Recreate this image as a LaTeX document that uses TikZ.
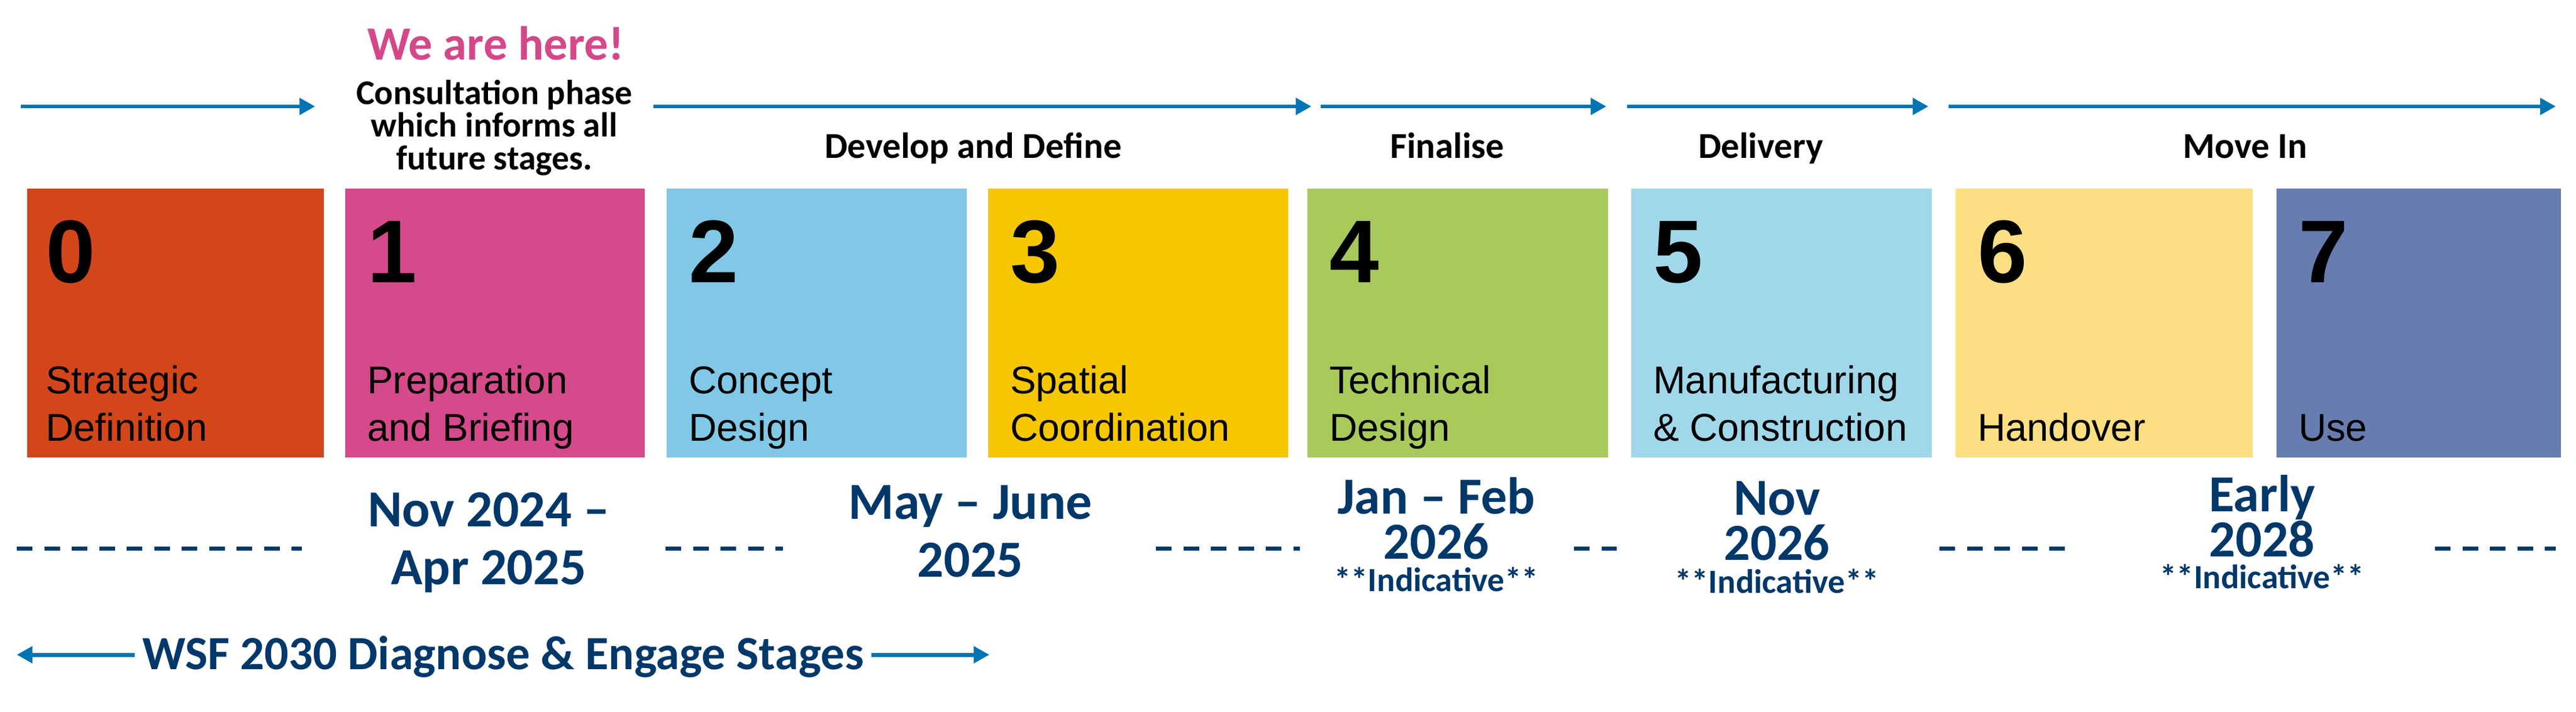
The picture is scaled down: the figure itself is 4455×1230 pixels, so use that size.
\documentclass[tikz,border=0pt]{standalone}
\usepackage{fontspec}
\setmainfont{Carlito}
\newfontfamily\arialf{Liberation Sans}
\usetikzlibrary{arrows.meta}
\definecolor{c0}{HTML}{D2461A}
\definecolor{c1}{HTML}{D44A8B}
\definecolor{c2}{HTML}{80C8E6}
\definecolor{c3}{HTML}{F6C700}
\definecolor{c4}{HTML}{A8CA5C}
\definecolor{c5}{HTML}{A0D8EA}
\definecolor{c6}{HTML}{FCDF82}
\definecolor{c7}{HTML}{687DAF}
\definecolor{arrowblue}{HTML}{0074B4}
\definecolor{navy}{HTML}{00386A}
\definecolor{herepink}{HTML}{D4488A}
\begin{document}
\begin{tikzpicture}[x=0.2pt,y=-0.2pt,
  stagebox/.style={draw=none,anchor=north west,inner sep=0pt,minimum height=93pt},
  num/.style={anchor=base west,inner sep=0pt,font=\arialf\bfseries\fontsize{30.8}{36}\selectfont},
  lbl/.style={anchor=base west,inner sep=0pt,align=left,font=\arialf\fontsize{13.4}{16.4}\selectfont},
  hdr/.style={anchor=base,inner sep=0pt,align=center,font=\bfseries\fontsize{12}{11.3}\selectfont},
  stagehdr/.style={anchor=base,inner sep=0pt,font=\bfseries\fontsize{12.6}{14}\selectfont},
  here/.style={anchor=base,inner sep=0pt,text=herepink,font=\bfseries\fontsize{16.5}{19}\selectfont},
  datea/.style={anchor=base,inner sep=0pt,align=center,text=navy,font=\bfseries\fontsize{18}{20}\selectfont},
  dateb/.style={anchor=base,inner sep=0pt,align=center,text=navy,font=\bfseries\fontsize{18}{15.5}\selectfont},
  ind/.style={anchor=base,inner sep=0pt,text=navy,font=\bfseries\fontsize{11.7}{14}\selectfont},
  wsf/.style={anchor=base,inner sep=0pt,text=navy,font=\bfseries\fontsize{16.5}{19}\selectfont},
  phase/.style={draw=arrowblue,line width=1.34pt,-{Triangle[length=5.4pt,width=5.6pt]}},
  gap/.style={draw=navy,line width=1.4pt,dash pattern=on 5.4pt off 4.1pt}
]
\useasboundingbox[fill=white] (0,0) rectangle (4455,1230);

% stage boxes
\node[stagebox,fill=c0,minimum width=102.6pt] (b0) at (46,325) {};
\node[stagebox,fill=c1,minimum width=103.6pt] (b1) at (596,325) {};
\node[stagebox,fill=c2,minimum width=103.8pt] (b2) at (1152,325) {};
\node[stagebox,fill=c3,minimum width=103.8pt] (b3) at (1708,325) {};
\node[stagebox,fill=c4,minimum width=104pt] (b4) at (2260,325) {};
\node[stagebox,fill=c5,minimum width=104pt] (b5) at (2820,325) {};
\node[stagebox,fill=c6,minimum width=102.8pt] (b6) at (3381,325) {};
\node[stagebox,fill=c7,minimum width=98.4pt] (b7) at (3936,325) {};

% numbers
\node[num] (n0) at (78,488) {0};
\node[num] (n1) at (634,488) {1};
\node[num] (n2) at (1190,488) {2};
\node[num] (n3) at (1746,488) {3};
\node[num] (n4) at (2298,488) {4};
\node[num] (n5) at (2858,488) {5};
\node[num] (n6) at (3419,488) {6};
\node[num] (n7) at (3974,488) {7};

% labels (anchor = baseline of last line)
\node[lbl] (l0) at (78,762) {Strategic\\Definition};
\node[lbl] (l1) at (634,762) {Preparation\\and Briefing};
\node[lbl] (l2) at (1190,762) {Concept\\Design};
\node[lbl] (l3) at (1746,762) {Spatial\\Coordination};
\node[lbl] (l4) at (2298,762) {Technical\\Design};
\node[lbl] (l5) at (2858,762) {Manufacturing\\\& Construction};
\node[lbl] (l6) at (3419,762) {Handover};
\node[lbl] (l7) at (3974,762) {Use};

% top phase arrows
\coordinate (a1s) at (36,184);   \coordinate (a1e) at (545,184);
\coordinate (a2s) at (1130,184); \coordinate (a2e) at (2268,184);
\coordinate (a3s) at (2284,184); \coordinate (a3e) at (2778,184);
\coordinate (a4s) at (2814,184); \coordinate (a4e) at (3335,184);
\coordinate (a5s) at (3370,184); \coordinate (a5e) at (4420,184);
\draw[phase] (a1s) -- (a1e);
\draw[phase] (a2s) -- (a2e);
\draw[phase] (a3s) -- (a3e);
\draw[phase] (a4s) -- (a4e);
\draw[phase] (a5s) -- (a5e);

% headings
\node[here] (here) at (857,103) {We are here!};
\node[hdr] (consult) at (855,293) {Consultation phase\\which informs all\\future stages.};
\node[stagehdr] (dev) at (1683,273) {Develop and Define};
\node[stagehdr] (fin) at (2503,273) {Finalise};
\node[stagehdr] (del) at (3045,273) {Delivery};
\node[stagehdr] (mov) at (3883,273) {Move In};

% dates (anchor = baseline of last line)
\node[datea] (d1) at (845,1010) {Nov 2024 –\\Apr 2025};
\node[datea] (d2) at (1678,997) {May – June\\2025};
\node[dateb] (d4) at (2484,966) {Jan – Feb\\2026};
\node[ind] (i4) at (2484,1022) {**Indicative**};
\node[dateb] (d5) at (3073,968) {Nov\\2026};
\node[ind] (i5) at (3073,1025) {**Indicative**};
\node[dateb] (d6) at (3912,962) {Early\\2028};
\node[ind] (i6) at (3912,1017) {**Indicative**};

% dashed gaps
\coordinate (g1s) at (29,948);   \coordinate (g1e) at (522,948);
\coordinate (g2s) at (1151,948); \coordinate (g2e) at (1354,948);
\coordinate (g3s) at (1999,948); \coordinate (g3e) at (2248,948);
\coordinate (g4s) at (2722,948); \coordinate (g4e) at (2796,948);
\coordinate (g5s) at (3354,948); \coordinate (g5e) at (3574,948);
\coordinate (g6s) at (4211,948); \coordinate (g6e) at (4420,948);
\draw[gap] (g1s) -- (g1e);
\draw[gap] (g2s) -- (g2e);
\draw[gap] (g3s) -- (g3e);
\draw[gap] (g4s) -- (g4e);
\draw[gap] (g5s) -- (g5e);
\draw[gap] (g6s) -- (g6e);

% WSF stages
\node[wsf] (wsf) at (870,1157) {WSF 2030 Diagnose \& Engage Stages};
\coordinate (wl) at (29,1132);
\coordinate (wr) at (1711,1132);
\draw[phase,line width=1.4pt] (wsf.west |- wl) ++(-12,0) -- (wl);
\draw[phase,line width=1.4pt] (wsf.east |- wr) ++(12,0) -- (wr);
\end{tikzpicture}
\end{document}
